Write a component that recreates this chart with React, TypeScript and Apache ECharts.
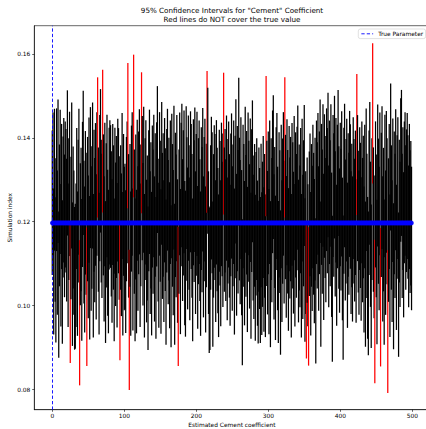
import React, { useEffect, useRef } from "react";
import * as echarts from "echarts";

const TITLE_LINES = ['95% Confidence Intervals for "Cement" Coefficient', "Red lines do NOT cover the true value"];
const X_LABEL = "Estimated Cement coefficient";
const Y_LABEL = "Simulation index";
const LEGEND_LABEL = "True Parameter";
const TRUE_VALUE = 0.1197;
const X_TICKS = [0, 100, 200, 300, 400, 500];
const Y_TICKS = [0.08, 0.1, 0.12, 0.14, 0.16];

// point estimate of each simulated interval (index 0..499)
const ESTIMATES = [
  0.1245, 0.1290, 0.1105, 0.1300, 0.1180, 0.1085, 0.1300, 0.1150, 0.1320, 0.1050, 0.1215, 0.1295, 0.1120, 0.1260, 0.1080, 0.1235, 0.1275, 0.1190, 0.1265, 0.1250,
  0.1180, 0.1340, 0.1120, 0.1230, 0.1290, 0.1028, 0.1185, 0.1310, 0.1075, 0.1210, 0.1150, 0.1065, 0.1070, 0.1120, 0.1255, 0.1100, 0.1225, 0.1295, 0.0983, 0.1170,
  0.1205, 0.1085, 0.1265, 0.1340, 0.1175, 0.1110, 0.1245, 0.1195, 0.1021, 0.1230, 0.1140, 0.1275, 0.1090, 0.1305, 0.1160, 0.1210, 0.1310, 0.1095, 0.1250, 0.1180,
  0.1265, 0.1140, 0.1290, 0.1377, 0.1205, 0.1100, 0.1280, 0.1345, 0.1225, 0.1190, 0.1392, 0.1240, 0.1135, 0.1265, 0.1080, 0.1215, 0.1285, 0.1150, 0.1105, 0.1255,
  0.1270, 0.1260, 0.1195, 0.1130, 0.1265, 0.1210, 0.1085, 0.1250, 0.1170, 0.1235, 0.1120, 0.1275, 0.1250, 0.1185, 0.1032, 0.1210, 0.1145, 0.1285, 0.1100, 0.1240,
  0.1160, 0.1165, 0.1105, 0.1230, 0.1270, 0.1405, 0.1190, 0.0966, 0.1215, 0.1100, 0.1255, 0.1290, 0.1110, 0.1428, 0.1200, 0.1085, 0.1235, 0.1105, 0.1275, 0.1160,
  0.1245, 0.1295, 0.1120, 0.1215, 0.1388, 0.1280, 0.1170, 0.1300, 0.1095, 0.1230, 0.1270, 0.1130, 0.1185, 0.1065, 0.1250, 0.1295, 0.1150, 0.1215, 0.1100, 0.1260,
  0.1200, 0.1285, 0.1135, 0.1240, 0.1090, 0.1265, 0.1348, 0.1180, 0.1120, 0.1290, 0.1225, 0.1105, 0.1315, 0.1190, 0.1240, 0.1130, 0.1275, 0.1205, 0.1080, 0.1250,
  0.1300, 0.1175, 0.1230, 0.1120, 0.1270, 0.1070, 0.1285, 0.1215, 0.1150, 0.1305, 0.1075, 0.1240, 0.1190, 0.1280, 0.1130, 0.1022, 0.1200, 0.1290, 0.1105, 0.1265,
  0.1310, 0.1180, 0.1245, 0.1295, 0.1125, 0.1100, 0.1305, 0.1230, 0.1160, 0.1280, 0.1210, 0.1135, 0.1295, 0.1260, 0.1190, 0.1085, 0.1270, 0.1225, 0.1300, 0.1150,
  0.1240, 0.1290, 0.1115, 0.1225, 0.1270, 0.1180, 0.1100, 0.1255, 0.1205, 0.1300, 0.1140, 0.1230, 0.1275, 0.1110, 0.1215, 0.1390, 0.1345, 0.1150, 0.1060, 0.1065,
  0.1210, 0.1280, 0.1245, 0.1075, 0.1190, 0.1260, 0.1235, 0.1130, 0.1270, 0.1205, 0.1155, 0.1095, 0.1250, 0.1220, 0.1125, 0.1265, 0.1240, 0.1170, 0.1386, 0.1205,
  0.1250, 0.1180, 0.1280, 0.1135, 0.1225, 0.1265, 0.1190, 0.1120, 0.1240, 0.1285, 0.1160, 0.1215, 0.1270, 0.1105, 0.1235, 0.1320, 0.1145, 0.1255, 0.1200, 0.1367,
  0.1230, 0.1175, 0.1280, 0.1150, 0.1032, 0.1260, 0.1215, 0.1125, 0.1300, 0.1190, 0.1245, 0.1110, 0.1290, 0.1225, 0.1165, 0.1275, 0.1095, 0.1250, 0.1320, 0.1185,
  0.1140, 0.1215, 0.1090, 0.1195, 0.1230, 0.1125, 0.1080, 0.1205, 0.1160, 0.1085, 0.1215, 0.1100, 0.1170, 0.1235, 0.1110, 0.1190, 0.1095, 0.1380, 0.1220, 0.1150,
  0.1245, 0.1105, 0.1270, 0.1075, 0.1230, 0.1180, 0.1295, 0.1330, 0.1140, 0.1210, 0.1090, 0.1255, 0.1285, 0.1160, 0.1080, 0.1240, 0.1200, 0.1055, 0.1260, 0.1130,
  0.1225, 0.1290, 0.1175, 0.1377, 0.1235, 0.1140, 0.1270, 0.1200, 0.1110, 0.1255, 0.1185, 0.1230, 0.1095, 0.1265, 0.1215, 0.1150, 0.1280, 0.1120, 0.1240, 0.1190,
  0.1255, 0.1305, 0.1130, 0.1210, 0.1165, 0.1250, 0.1095, 0.1275, 0.1140, 0.1220, 0.1310, 0.1085, 0.1150, 0.1034, 0.1180, 0.1120, 0.1022, 0.1195, 0.1240, 0.1100,
  0.1215, 0.1160, 0.1260, 0.1195, 0.1130, 0.1230, 0.1035, 0.1270, 0.1215, 0.1290, 0.1160, 0.1245, 0.1320, 0.1075, 0.1265, 0.1200, 0.1310, 0.1140, 0.1285, 0.1235,
  0.1180, 0.1300, 0.1250, 0.1335, 0.1165, 0.1270, 0.1220, 0.1310, 0.1145, 0.1040, 0.1285, 0.1240, 0.1330, 0.1195, 0.1275, 0.1120, 0.1260, 0.1340, 0.1210, 0.1155,
  0.1265, 0.1205, 0.1290, 0.1135, 0.1043, 0.1250, 0.1310, 0.1180, 0.1225, 0.1275, 0.1120, 0.1240, 0.1195, 0.1290, 0.1260, 0.1150, 0.1215, 0.1135, 0.1280, 0.1225,
  0.1180, 0.1245, 0.1130, 0.1384, 0.1280, 0.1200, 0.1150, 0.1255, 0.1215, 0.1135, 0.1270, 0.1180, 0.1235, 0.1110, 0.1260, 0.1075, 0.1300, 0.1190, 0.1090, 0.1053,
  0.1245, 0.1315, 0.1170, 0.1070, 0.1230, 0.1458, 0.1205, 0.1140, 0.0986, 0.1265, 0.1190, 0.1080, 0.1310, 0.1225, 0.1160, 0.1290, 0.1020, 0.1240, 0.1305, 0.1135,
  0.1205, 0.1080, 0.1285, 0.1150, 0.1295, 0.1225, 0.0962, 0.1180, 0.1260, 0.1095, 0.1354, 0.1210, 0.1130, 0.1275, 0.1070, 0.1245, 0.1190, 0.1300, 0.1115, 0.1235,
  0.1280, 0.1050, 0.1225, 0.1170, 0.1323, 0.1340, 0.1190, 0.1255, 0.1145, 0.1270, 0.1290, 0.1210, 0.1250, 0.1285, 0.1235, 0.1165, 0.1260, 0.1200, 0.1220, 0.1160,
];

// half-width (margin of error) of each interval
const MARGINS = [
  0.0172, 0.0170, 0.0174, 0.0169, 0.0171, 0.0173, 0.0170, 0.0172, 0.0171, 0.0174, 0.0169, 0.0172, 0.0170, 0.0173, 0.0171, 0.0168, 0.0172, 0.0170, 0.0174, 0.0171,
  0.0170, 0.0173, 0.0171, 0.0169, 0.0172, 0.0165, 0.0170, 0.0174, 0.0171, 0.0169, 0.0172, 0.0170, 0.0173, 0.0171, 0.0168, 0.0172, 0.0170, 0.0174, 0.0173, 0.0169,
  0.0171, 0.0169, 0.0173, 0.0172, 0.0170, 0.0174, 0.0171, 0.0169, 0.0165, 0.0172, 0.0170, 0.0173, 0.0171, 0.0168, 0.0172, 0.0170, 0.0174, 0.0171, 0.0169, 0.0172,
  0.0170, 0.0173, 0.0171, 0.0167, 0.0172, 0.0169, 0.0174, 0.0171, 0.0170, 0.0172, 0.0170, 0.0168, 0.0173, 0.0171, 0.0169, 0.0172, 0.0170, 0.0174, 0.0171, 0.0169,
  0.0172, 0.0170, 0.0173, 0.0171, 0.0168, 0.0172, 0.0170, 0.0174, 0.0171, 0.0169, 0.0172, 0.0170, 0.0173, 0.0171, 0.0162, 0.0172, 0.0170, 0.0174, 0.0171, 0.0169,
  0.0171, 0.0173, 0.0170, 0.0172, 0.0169, 0.0173, 0.0171, 0.0167, 0.0170, 0.0172, 0.0174, 0.0171, 0.0169, 0.0170, 0.0172, 0.0170, 0.0173, 0.0171, 0.0168, 0.0172,
  0.0170, 0.0173, 0.0171, 0.0169, 0.0168, 0.0172, 0.0170, 0.0174, 0.0171, 0.0169, 0.0172, 0.0170, 0.0173, 0.0171, 0.0168, 0.0172, 0.0170, 0.0174, 0.0171, 0.0169,
  0.0172, 0.0170, 0.0173, 0.0171, 0.0169, 0.0172, 0.0175, 0.0170, 0.0173, 0.0171, 0.0168, 0.0172, 0.0170, 0.0174, 0.0171, 0.0169, 0.0172, 0.0170, 0.0173, 0.0171,
  0.0169, 0.0172, 0.0170, 0.0174, 0.0171, 0.0169, 0.0172, 0.0170, 0.0173, 0.0171, 0.0168, 0.0172, 0.0170, 0.0174, 0.0171, 0.0166, 0.0172, 0.0170, 0.0173, 0.0171,
  0.0171, 0.0169, 0.0173, 0.0170, 0.0172, 0.0174, 0.0170, 0.0171, 0.0169, 0.0173, 0.0172, 0.0170, 0.0168, 0.0173, 0.0171, 0.0170, 0.0174, 0.0169, 0.0172, 0.0170,
  0.0169, 0.0172, 0.0170, 0.0174, 0.0171, 0.0169, 0.0172, 0.0170, 0.0173, 0.0171, 0.0168, 0.0172, 0.0170, 0.0174, 0.0171, 0.0169, 0.0174, 0.0170, 0.0173, 0.0171,
  0.0172, 0.0170, 0.0168, 0.0173, 0.0171, 0.0170, 0.0174, 0.0169, 0.0172, 0.0171, 0.0173, 0.0170, 0.0169, 0.0172, 0.0174, 0.0171, 0.0170, 0.0173, 0.0169, 0.0172,
  0.0171, 0.0169, 0.0173, 0.0170, 0.0172, 0.0174, 0.0171, 0.0168, 0.0170, 0.0173, 0.0172, 0.0169, 0.0171, 0.0174, 0.0170, 0.0172, 0.0169, 0.0173, 0.0171, 0.0176,
  0.0170, 0.0172, 0.0169, 0.0173, 0.0174, 0.0171, 0.0170, 0.0172, 0.0174, 0.0169, 0.0171, 0.0173, 0.0170, 0.0168, 0.0172, 0.0171, 0.0174, 0.0170, 0.0169, 0.0173,
  0.0172, 0.0170, 0.0174, 0.0171, 0.0169, 0.0173, 0.0170, 0.0172, 0.0168, 0.0174, 0.0171, 0.0170, 0.0173, 0.0169, 0.0172, 0.0171, 0.0170, 0.0167, 0.0173, 0.0171,
  0.0170, 0.0173, 0.0171, 0.0174, 0.0169, 0.0172, 0.0170, 0.0171, 0.0173, 0.0168, 0.0172, 0.0170, 0.0174, 0.0171, 0.0169, 0.0173, 0.0170, 0.0172, 0.0171, 0.0169,
  0.0173, 0.0171, 0.0170, 0.0167, 0.0172, 0.0169, 0.0174, 0.0171, 0.0170, 0.0173, 0.0168, 0.0172, 0.0171, 0.0170, 0.0174, 0.0169, 0.0172, 0.0170, 0.0173, 0.0171,
  0.0171, 0.0172, 0.0170, 0.0174, 0.0169, 0.0173, 0.0171, 0.0170, 0.0172, 0.0174, 0.0168, 0.0171, 0.0170, 0.0160, 0.0173, 0.0169, 0.0165, 0.0172, 0.0170, 0.0171,
  0.0170, 0.0173, 0.0171, 0.0169, 0.0172, 0.0170, 0.0173, 0.0171, 0.0174, 0.0169, 0.0172, 0.0170, 0.0171, 0.0173, 0.0168, 0.0172, 0.0170, 0.0174, 0.0171, 0.0169,
  0.0172, 0.0170, 0.0173, 0.0172, 0.0169, 0.0171, 0.0174, 0.0170, 0.0172, 0.0174, 0.0169, 0.0171, 0.0170, 0.0173, 0.0172, 0.0168, 0.0171, 0.0174, 0.0170, 0.0172,
  0.0171, 0.0169, 0.0173, 0.0170, 0.0172, 0.0174, 0.0171, 0.0168, 0.0172, 0.0170, 0.0173, 0.0171, 0.0169, 0.0174, 0.0172, 0.0170, 0.0171, 0.0173, 0.0169, 0.0172,
  0.0170, 0.0172, 0.0171, 0.0168, 0.0174, 0.0169, 0.0172, 0.0170, 0.0173, 0.0171, 0.0169, 0.0172, 0.0170, 0.0174, 0.0171, 0.0173, 0.0170, 0.0172, 0.0169, 0.0171,
  0.0172, 0.0170, 0.0173, 0.0171, 0.0169, 0.0167, 0.0172, 0.0170, 0.0171, 0.0174, 0.0170, 0.0172, 0.0169, 0.0173, 0.0171, 0.0170, 0.0165, 0.0172, 0.0170, 0.0173,
  0.0171, 0.0173, 0.0170, 0.0172, 0.0169, 0.0174, 0.0170, 0.0171, 0.0173, 0.0170, 0.0175, 0.0172, 0.0169, 0.0171, 0.0174, 0.0170, 0.0172, 0.0168, 0.0173, 0.0171,
  0.0169, 0.0172, 0.0170, 0.0173, 0.0171, 0.0174, 0.0172, 0.0170, 0.0173, 0.0169, 0.0171, 0.0172, 0.0170, 0.0174, 0.0171, 0.0169, 0.0173, 0.0170, 0.0172, 0.0171,
];

const FONT = "DejaVu Sans";

export default function App() {
  const ref = useRef<HTMLDivElement>(null);

  useEffect(() => {
    if (!ref.current) return;
    const chart = echarts.init(ref.current, null, { renderer: "svg" });

    const intervals = ESTIMATES.map((c, i) => [i, c - MARGINS[i], c + MARGINS[i]]);
    const truePoints = ESTIMATES.map((_, i) => [i, TRUE_VALUE]);

    const axisLineStyle = { color: "#000", width: 0.6 };
    const dashStyle = { color: "#0000ff", width: 0.9, type: [3.3, 2.1] };

    chart.setOption({
      animation: false,
      grid: {
        left: 34.3,
        top: 25.7,
        width: 395.2,
        height: 384,
        show: true,
        borderColor: "#000",
        borderWidth: 0.6,
        backgroundColor: "transparent",
        containLabel: false,
        outerBoundsMode: "none",
      },
      graphic: [
        {
          type: "text",
          x: 232,
          y: 10,
          silent: true,
          style: {
            text: TITLE_LINES[0],
            fontSize: 7.2,
            fontFamily: FONT,
            fill: "#000",
            textAlign: "center",
            textVerticalAlign: "middle",
          },
        },
        {
          type: "text",
          x: 232,
          y: 19.6,
          silent: true,
          style: {
            text: TITLE_LINES[1],
            fontSize: 7.2,
            fontFamily: FONT,
            fill: "#000",
            textAlign: "center",
            textVerticalAlign: "middle",
          },
        },
      ],
      legend: {
        show: true,
        data: [LEGEND_LABEL],
        left: 358.3,
        top: 29,
        orient: "vertical",
        padding: [1.8, 2.4, 1.8, 2.6],
        itemWidth: 11.8,
        itemHeight: 6,
        itemStyle: { opacity: 0 },
        lineStyle: dashStyle,
        borderColor: "#cccccc",
        borderWidth: 0.6,
        borderRadius: 2,
        backgroundColor: "rgba(255,255,255,0.8)",
        textStyle: { fontSize: 5.9, fontFamily: FONT, color: "#000" },
        selectedMode: false,
      },
      xAxis: {
        type: "value",
        min: -24.95,
        max: 523.95,
        name: X_LABEL,
        nameLocation: "middle",
        nameGap: 12.6,
        nameMoveOverlap: false,
        nameTextStyle: { fontSize: 5.9, fontFamily: FONT, color: "#000" },
        splitLine: { show: false },
        axisLine: { show: true, onZero: false, lineStyle: axisLineStyle },
        axisTick: { show: true, customValues: X_TICKS, length: 2.1, lineStyle: axisLineStyle },
        axisLabel: {
          customValues: X_TICKS,
          fontSize: 5.9,
          fontFamily: FONT,
          color: "#000",
          margin: 3.6,
        },
      },
      yAxis: {
        type: "value",
        min: 0.0752,
        max: 0.1667,
        name: Y_LABEL,
        nameLocation: "middle",
        nameGap: 21,
        nameMoveOverlap: false,
        nameTextStyle: { fontSize: 5.9, fontFamily: FONT, color: "#000" },
        splitLine: { show: false },
        axisLine: { show: true, onZero: false, lineStyle: axisLineStyle },
        axisTick: { show: true, customValues: Y_TICKS, length: 2.1, lineStyle: axisLineStyle },
        axisLabel: {
          customValues: Y_TICKS,
          fontSize: 5.9,
          fontFamily: FONT,
          color: "#000",
          margin: 4,
          formatter: (v: number) => v.toFixed(2),
        },
      },
      series: [
        {
          name: "intervals",
          type: "custom",
          silent: true,
          data: intervals,
          encode: { x: 0, y: [1, 2] },
          renderItem: (params: any, api: any) => {
            const x = api.value(0);
            const lo = api.value(1);
            const hi = api.value(2);
            const p1 = api.coord([x, lo]);
            const p2 = api.coord([x, hi]);
            const miss = hi < TRUE_VALUE || lo > TRUE_VALUE;
            return {
              type: "line",
              shape: { x1: p1[0], y1: p1[1], x2: p2[0], y2: p2[1] },
              style: { stroke: miss ? "#ff0000" : "#000000", lineWidth: 1.25 },
            };
          },
        },
        {
          name: "truth",
          type: "scatter",
          silent: true,
          data: truePoints,
          symbol: "circle",
          symbolSize: 4.6,
          itemStyle: { color: "#0000ff" },
        },
        {
          name: LEGEND_LABEL,
          type: "line",
          silent: true,
          data: [],
          symbol: "none",
          itemStyle: { color: "#0000ff" },
          lineStyle: dashStyle,
          markLine: {
            silent: true,
            symbol: ["none", "none"],
            label: { show: false },
            lineStyle: dashStyle,
            data: [{ xAxis: TRUE_VALUE }],
          },
        },
      ],
    });

    return () => chart.dispose();
  }, []);

  return (
    <div
      ref={ref}
      style={{ position: "absolute", left: 0, top: 0, width: 426, height: 429 }}
    />
  );
}
